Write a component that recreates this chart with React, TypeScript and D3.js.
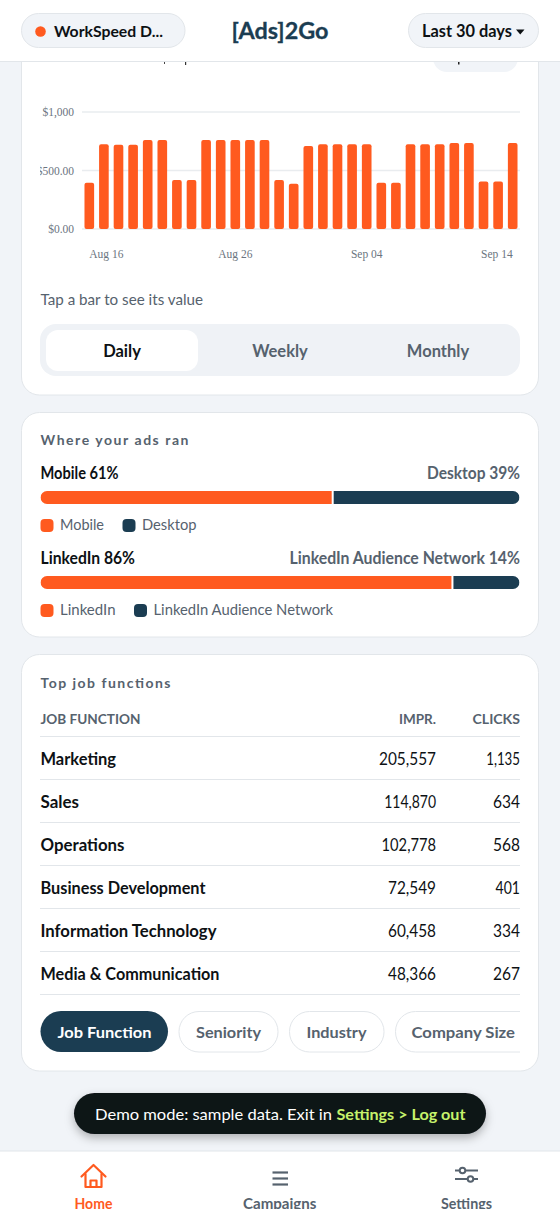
import React, { useEffect, useRef } from "react";
import * as d3 from "d3";

const spend = [396, 724, 721, 721, 761, 761, 419, 419, 761, 761, 761, 761, 761, 419, 387, 709, 724, 724, 724, 724, 396, 396, 724, 724, 724, 735, 735, 405, 405, 735];
const days = d3.timeDay.range(new Date(2025, 7, 16), new Date(2025, 8, 15));
const tickDays = [0, 10, 19, 29];
const yTicks = [0, 500, 1000];

const periods = ["Daily", "Weekly", "Monthly"];
const devicePct = [61, 39];
const deviceNames = ["Mobile", "Desktop"];
const networkPct = [86, 14];
const networkNames = ["LinkedIn", "LinkedIn Audience Network"];

const jobFunctions = ["Marketing", "Sales", "Operations", "Business Development", "Information Technology", "Media & Communication"];
const impressions = [205557, 114870, 102778, 72549, 60458, 48366];
const clicks = [1135, 634, 568, 401, 334, 267];
const chips = ["Job Function", "Seniority", "Industry", "Company Size"];

const ORANGE = "#ff5a1f";
const NAVY = "#1b3d52";
const BG = "#f1f4f8";
const LINE = "#e2e6ea";
const INK = "#0d1114";
const GREY = "#56626e";
const FONT = "Lato, sans-serif";
const fmt = d3.format(",");

// the reference font is wider/narrower than Lato in places, so text is fitted to measured widths
const nameWidths = [75.5, 38.5, 84, 165, 176, 179];
const numWidth = (s: string) => d3.sum(s.split(""), (c) => (c === "1" ? 6.4 : c === "," ? 3 : 9));

const x = d3.scaleBand<number>().domain(d3.range(spend.length)).range([82, 520]).paddingInner(0.34).paddingOuter(0.17);
const y = d3.scaleLinear().domain([0, 1000]).range([229, 112]);
const pct = d3.scaleLinear().domain([0, 100]).range([40.5, 519.5]);

function Fit({ w, children, ...rest }: any) {
    return <text textLength={w} lengthAdjust="spacingAndGlyphs" {...rest}>{children}</text>;
}

function Split({ top, values, names, legendX, headW, legendW }: { top: number; values: number[]; names: string[]; legendX: number[]; headW: number[]; legendW: number[] }) {
    const cut = pct(values[0]);
    const id = `split-${top}`;
    return (
        <g>
            <Fit w={headW[0]} x={40.5} y={top - 12} fontSize={16.5} fontWeight={700} fill={INK}>{`${names[0]} ${values[0]}%`}</Fit>
            <Fit w={headW[1]} x={520 - headW[1]} y={top - 12} fontSize={16.5} fontWeight={700} fill={GREY}>{`${names[1]} ${values[1]}%`}</Fit>
            <clipPath id={id}><rect x={pct(0)} y={top} width={pct(100) - pct(0)} height={13} rx={6.5} /></clipPath>
            <g clipPath={`url(#${id})`}>
                <rect x={pct(0)} y={top} width={cut - pct(0) - 1} height={13} fill={ORANGE} />
                <rect x={cut + 1} y={top} width={pct(100) - cut - 1} height={13} fill={NAVY} />
            </g>
            {names.map((n, i) => (
                <g key={n}>
                    <rect x={legendX[i]} y={top + 28} width={13} height={13} rx={4} fill={i === 0 ? ORANGE : NAVY} />
                    <Fit w={legendW[i]} x={legendX[i] + 19.5} y={top + 39} fontSize={15.5} fill={GREY}>{n}</Fit>
                </g>
            ))}
        </g>
    );
}

export default function App() {
    const axes = useRef<SVGGElement>(null);

    useEffect(() => {
        if (!axes.current) return;
        const root = d3.select(axes.current);
        root.selectAll("*").remove();

        const left = root.append("g").attr("transform", "translate(74,0)").attr("clip-path", "url(#ylabels)").call(
            d3.axisLeft(y).tickValues(yTicks).tickSize(0).tickPadding(0).tickFormat((d) => (+d === 1000 ? "$1,000" : `$${(+d).toFixed(2)}`))
        );
        left.select(".domain").remove();
        left.selectAll("text").attr("font-family", "'Liberation Serif', serif").attr("font-size", 11.5).attr("fill", "#6b7480");

        const bottom = root.append("g").attr("transform", "translate(0,229)").call(
            d3.axisBottom(x).tickValues(tickDays).tickSize(0).tickFormat((d) => d3.timeFormat("%b %d")(days[+d]))
        );
        bottom.select(".domain").remove();
        bottom.selectAll("text")
            .attr("y", 29)
            .attr("dy", 0)
            .attr("font-family", "'Liberation Serif', serif")
            .attr("font-size", 11.5)
            .attr("fill", "#6b7480")
            .attr("text-anchor", (_, i) => (i === 0 ? "start" : i === tickDays.length - 1 ? "end" : "middle"));
    }, []);

    const colImpr = 436;
    const colClicks = 520;
    const rows = d3.scaleBand<number>().domain(d3.range(jobFunctions.length)).range([736.5, 994.5]);

    return (
        <svg width={560} height={1214} style={{ position: "absolute", left: 0, top: 0, background: BG }} fontFamily={FONT}>
            <defs>
                <clipPath id="ylabels"><rect x={-34} y={90} width={60} height={160} /></clipPath>
                <clipPath id="chipclip"><rect x={30} y={1000} width={490} height={60} /></clipPath>
                <clipPath id="navclip"><rect x={0} y={1151} width={560} height={58} /></clipPath>
                <filter id="toastshadow" x="-10%" y="-40%" width="120%" height="200%">
                    <feDropShadow dx={0} dy={4} stdDeviation={5} floodColor="#000" floodOpacity={0.28} />
                </filter>
            </defs>

            {/* spend card */}
            <rect x={21.5} y={-20} width={517} height={415} rx={18} fill="#fff" stroke={LINE} />
            <rect x={433} y={40} width={85} height={32} rx={14} fill={BG} />
            {yTicks.map((t) => (
                <line key={t} x1={82} x2={520} y1={y(t)} y2={y(t)} stroke="#e9ecef" strokeWidth={1.3} />
            ))}
            {spend.map((v, i) => (
                <rect key={i} x={x(i)} y={y(v)} width={x.bandwidth()} height={y(0) - y(v)} rx={2} fill={ORANGE} />
            ))}
            <g ref={axes} />
            <Fit w={162.5} x={40.5} y={305} fontSize={15} fill={GREY}>Tap a bar to see its value</Fit>
            <rect x={40} y={324} width={480} height={52} rx={16} fill="#eff2f6" />
            <rect x={46} y={330} width={152} height={41} rx={12} fill="#fff" />
            {periods.map((p, i) => (
                <text key={p} x={122 + i * 158} y={357} textAnchor="middle" fontSize={16.5} fontWeight={700} fill={i === 0 ? INK : GREY}>{p}</text>
            ))}

            {/* placements card */}
            <rect x={21.5} y={412.5} width={517} height={224.5} rx={18} fill="#fff" stroke={LINE} />
            <text x={40.5} y={445} fontSize={14} fontWeight={700} textLength={148} fill={GREY}>Where your ads ran</text>
            <Split top={491} values={devicePct} names={deviceNames} legendX={[40.5, 122.5]} headW={[78, 93]} legendW={[44, 54.5]} />
            <Split top={576} values={networkPct} names={networkNames} legendX={[40.5, 134]} headW={[94.5, 230.5]} legendW={[55.5, 179.5]} />

            {/* job functions card */}
            <rect x={21.5} y={654.5} width={517} height={416.5} rx={18} fill="#fff" stroke={LINE} />
            <text x={40.5} y={688} fontSize={14} fontWeight={700} textLength={130} fill={GREY}>Top job functions</text>
            <Fit w={100} x={40.5} y={724} fontSize={13.5} fontWeight={700} fill={GREY}>JOB FUNCTION</Fit>
            <text x={colImpr} y={724} fontSize={13.5} fontWeight={700} fill={GREY} textAnchor="end">IMPR.</text>
            <Fit w={47.5} x={colClicks - 47.5} y={724} fontSize={13.5} fontWeight={700} fill={GREY}>CLICKS</Fit>
            <line x1={40} x2={520} y1={736.5} y2={736.5} stroke={LINE} />
            {jobFunctions.map((name, i) => {
                const top = rows(i)!;
                const h = rows.bandwidth();
                const impr = fmt(impressions[i]);
                const clk = fmt(clicks[i]);
                return (
                    <g key={name}>
                        <Fit w={nameWidths[i]} x={40.5} y={top + 28.5} fontSize={16.5} fontWeight={700} fill={INK}>{name}</Fit>
                        <Fit w={numWidth(impr)} x={colImpr - numWidth(impr)} y={top + 28.5} fontSize={16.5} fill={INK}>{impr}</Fit>
                        <Fit w={numWidth(clk)} x={colClicks - numWidth(clk)} y={top + 28.5} fontSize={16.5} fill={INK}>{clk}</Fit>
                        <line x1={40} x2={520} y1={top + h} y2={top + h} stroke={LINE} />
                    </g>
                );
            })}
            <g clipPath="url(#chipclip)">
                <rect x={40.5} y={1011} width={127.5} height={41} rx={20.5} fill={NAVY} />
                <rect x={179} y={1011.5} width={99} height={40.5} rx={20} fill="#fff" stroke={LINE} />
                <rect x={289.5} y={1011.5} width={94.5} height={40.5} rx={20} fill="#fff" stroke={LINE} />
                <rect x={395.5} y={1011.5} width={150} height={40.5} rx={20} fill="#fff" stroke={LINE} />
                {chips.map((c, i) => (
                    <Fit key={c} w={[94, 65, 60, 103.5][i]} x={[57.5, 196, 306.5, 411.5][i]} y={1038} fontSize={16} fontWeight={700} fill={i === 0 ? "#fff" : GREY}>{c}</Fit>
                ))}
            </g>

            {/* toast */}
            <rect x={74} y={1093} width={412} height={41} rx={20.5} fill="#0f1417" filter="url(#toastshadow)" />
            <Fit w={237} x={95} y={1120} fontSize={16} fill="#fff">Demo mode: sample data. Exit in</Fit>
            <Fit w={129} x={336.5} y={1120} fontSize={16} fontWeight={700} fill="#c6f26b">{"Settings > Log out"}</Fit>

            {/* header */}
            <rect x={0} y={0} width={560} height={61.5} fill="#fff" />
            <line x1={0} x2={560} y1={61.5} y2={61.5} stroke={LINE} strokeWidth={1.2} />
            <rect x={164} y={62} width={1} height={2} fill="#444" />
            <rect x={185} y={62} width={1.2} height={3} fill="#333" />
            <rect x={458} y={62} width={1.5} height={2.5} fill="#222" />
            <rect x={21.5} y={13.5} width={163.5} height={34} rx={17} fill={BG} stroke={LINE} />
            <circle cx={40.5} cy={31.5} r={5.3} fill={ORANGE} />
            <Fit w={109} x={54} y={37} fontSize={16} fontWeight={700} fill={INK}>WorkSpeed D...</Fit>
            <Fit w={97} x={231.5} y={39} fontSize={23} fontWeight={700} fill={NAVY} stroke={NAVY} strokeWidth={0.3}>[Ads]2Go</Fit>
            <rect x={408.5} y={13.5} width={130} height={34} rx={17} fill={BG} stroke={LINE} />
            <Fit w={90} x={422} y={37} fontSize={16.5} fontWeight={700} fill={INK}>Last 30 days</Fit>
            <path d="M516 29.5h8.5l-4.25 5z" fill={INK} />

            {/* bottom nav */}
            <rect x={0} y={1151} width={560} height={63} fill="#fff" />
            <line x1={0} x2={560} y1={1151} y2={1151} stroke={LINE} strokeWidth={1.2} />
            <g fill="none" stroke={ORANGE} strokeWidth={2.2} strokeLinejoin="round" strokeLinecap="round">
                <path d="M81.5 1176.5 93.5 1165 105.5 1176.5" />
                <path d="M85.5 1174v13h16v-13" />
                <path d="M90.5 1187v-6.5h6v6.5" />
            </g>
            <g stroke={GREY} strokeWidth={2.2}>
                <line x1={272.5} x2={288} y1={1172.5} y2={1172.5} />
                <line x1={272.5} x2={288} y1={1178.5} y2={1178.5} />
                <line x1={272.5} x2={288} y1={1184.5} y2={1184.5} />
            </g>
            <g stroke={GREY} strokeWidth={2} fill="#fff">
                <line x1={455} x2={478} y1={1170.5} y2={1170.5} />
                <line x1={455} x2={478} y1={1179} y2={1179} />
                <circle cx={462.5} cy={1170.5} r={2.8} />
                <circle cx={470.5} cy={1179} r={2.8} />
            </g>
            <g clipPath="url(#navclip)" fontSize={14.5} fontWeight={700}>
                <Fit w={38} x={74.5} y={1209} fill={ORANGE}>Home</Fit>
                <Fit w={73.5} x={243} y={1209} fill={GREY}>Campaigns</Fit>
                <Fit w={51} x={441} y={1209} fill={GREY}>Settings</Fit>
            </g>
        </svg>
    );
}
